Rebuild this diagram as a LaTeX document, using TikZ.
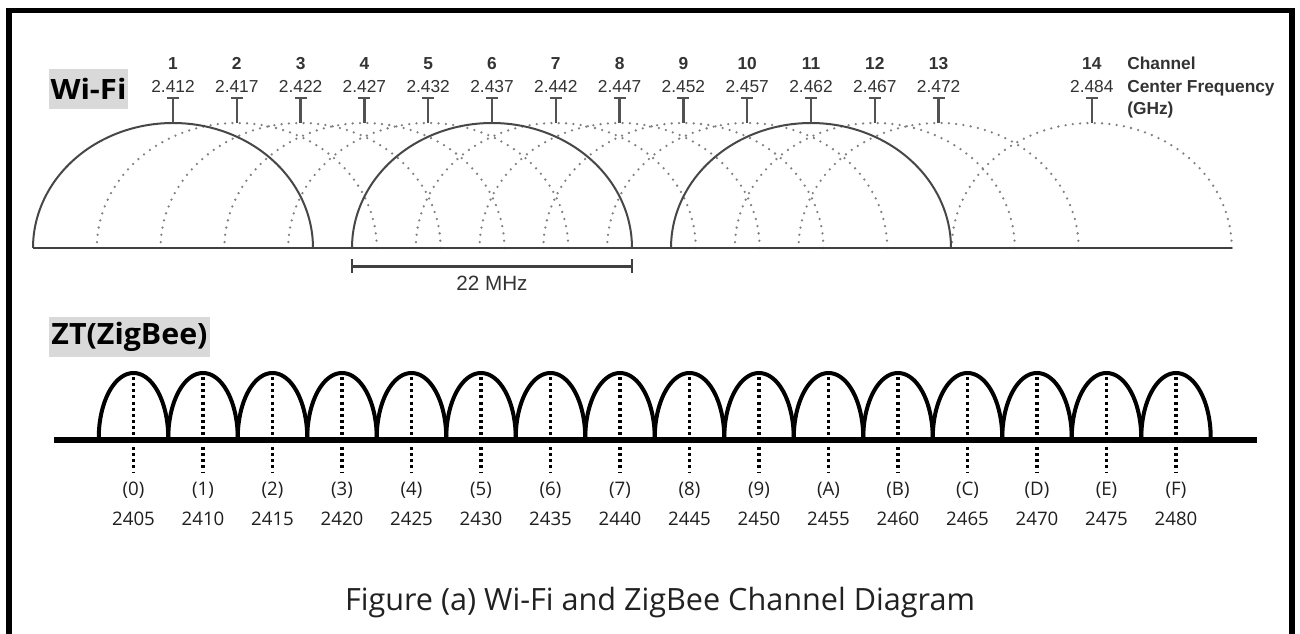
\documentclass[tikz,border=0pt]{standalone}
\usepackage{fontspec}
\usepackage{graphicx}
\newfontfamily\helv{Liberation Sans}
\newfontfamily\segoe{Open Sans}
\begin{document}
\begin{tikzpicture}[x=0.75pt,y=-0.75pt,
  frame/.style={draw=black, line width=4.1pt, line join=miter},
  wsolid/.style={draw=black!72, line width=1.5pt},
  wdot/.style={draw=black!50, line width=1.9pt, line cap=round, dash pattern=on 0pt off 5.5pt},
  tmark/.style={draw=black!68, line width=1.8pt},
  wbase/.style={draw=black!75, line width=2pt},
  wnum/.style={font=\helv\bfseries\fontsize{13}{13}\selectfont, text=black!80, inner sep=0pt, anchor=base},
  wfreq/.style={font=\helv\fontsize{13}{13}\selectfont, text=black!80, inner sep=0pt, anchor=base},
  wside/.style={font=\helv\bfseries\fontsize{13}{13}\selectfont, text=black!80, inner sep=0pt, anchor=base west},
  lblbox/.style={fill=black!15, inner sep=0pt, text=black},
  zarc/.style={draw=black, line width=3pt},
  zdot/.style={draw=black, line width=2.3pt, dash pattern=on 2.3pt off 2.3pt},
  zbase/.style={draw=black, line width=4.9pt},
  zlab/.style={font=\segoe\fontsize{14}{14}\selectfont, text=black!88, inner sep=0pt, anchor=base},
  capt/.style={text=black!87, inner sep=0pt, anchor=base}
]
\useasboundingbox (0,0) rectangle (1300,634);
\clip (0,0) rectangle (1300,634);
\fill[white] (0,0) rectangle (1300,634);

% outer frame
\draw[frame] (9,634) -- (9,10.5) -- (1292,10.5) -- (1292,634);

% ---------------- Wi-Fi ----------------
\node[lblbox, minimum width=59.25pt, minimum height=30pt] (wifi) at (88.5,89)
  {\resizebox{57pt}{\height}{\segoe\bfseries\fontsize{21}{21}\selectfont Wi-Fi}};

% dotted channel arcs
\foreach \n in {2,3,4,5,7,8,9,10,12,13}{
  \pgfmathsetmacro\cx{173+(\n-1)*63.8}
  \draw[wdot] plot[domain=0:180,samples=91,variable=\t] ({\cx+140*cos(\t)},{248-125*sin(\t)});
}
\draw[wdot] plot[domain=0:180,samples=91,variable=\t] ({1091.8+140*cos(\t)},{248-125*sin(\t)});
% solid channel arcs 1, 6, 11
\foreach \n in {1,6,11}{
  \pgfmathsetmacro\cx{173+(\n-1)*63.8}
  \draw[wsolid] plot[domain=0:180,samples=91,variable=\t] ({\cx+140*cos(\t)},{248-125*sin(\t)});
}
% baseline
\coordinate (wl) at (33,248);
\coordinate (wr) at (1232,248);
\draw[wbase] (wl) -- (wr);

% channel marks and labels
\foreach \n/\f in {1/2.412,2/2.417,3/2.422,4/2.427,5/2.432,6/2.437,7/2.442,8/2.447,9/2.452,10/2.457,11/2.462,12/2.467,13/2.472}{
  \pgfmathsetmacro\cx{173+(\n-1)*63.8}
  \node[wnum] (ch\n) at (\cx,70) {\n};
  \node[wfreq] (fr\n) at (\cx,92.5) {\f};
  \draw[tmark] (\cx-6,98) -- (\cx+6,98) (\cx,98) -- (\cx,123);
}
\node[wnum] (ch14) at (1091.8,70) {14};
\node[wfreq] (fr14) at (1091.8,92.5) {2.484};
\draw[tmark] (1085.8,98) -- (1097.8,98) (1091.8,98) -- (1091.8,123);

\node[wside] (chtxt) at (1127,70) {Channel};
\node[wside] (cftxt) at (1127,92.5) {Center Frequency};
\node[wside] (ghz) at (1127,115) {(GHz)};

% 22 MHz bracket
\coordinate (bl) at (352,266.5);
\coordinate (br) at (632,266.5);
\draw[wbase] (bl) -- (br);
\draw[wbase] (352,259.5) -- (352,273.5) (632,259.5) -- (632,273.5);
\node[wfreq, font=\helv\fontsize{15.5}{15.5}\selectfont] (mhz) at (492,291) {22 MHz};

% ---------------- ZigBee ----------------
\node[lblbox, minimum width=120.75pt, minimum height=30pt] (zt) at (129.5,337)
  {\resizebox{117pt}{\height}{\segoe\bfseries\fontsize{22}{22}\selectfont ZT(ZigBee)}};

\foreach \k in {0,...,15}{
  \pgfmathsetmacro\cx{133.5+69.5*\k}
  \draw[zarc] plot[domain=0:180,samples=61,variable=\t] ({\cx+34.75*cos(\t)},{438-65*sin(\t)});
  \draw[zdot] (\cx,377) -- (\cx,436);
  \draw[zdot] (\cx,447) -- (\cx,472);
}
\coordinate (zl) at (54,440);
\coordinate (zr) at (1257,440);
\draw[zbase] (zl) -- (zr);

\foreach \k/\l in {0/0,1/1,2/2,3/3,4/4,5/5,6/6,7/7,8/8,9/9,10/A,11/B,12/C,13/D,14/E,15/F}{
  \pgfmathsetmacro\cx{133.5+69.5*\k}
  \pgfmathtruncatemacro\fq{2405+5*\k}
  \node[zlab] (zc\k) at (\cx,496) {(\l)};
  \node[zlab] (zf\k) at (\cx,526) {\fq};
}

% caption
\node[capt] (caption) at (660,610)
  {\resizebox{472.5pt}{\height}{\segoe\fontsize{23}{23}\selectfont Figure (a) Wi-Fi and ZigBee Channel Diagram}};
\end{tikzpicture}
\end{document}
